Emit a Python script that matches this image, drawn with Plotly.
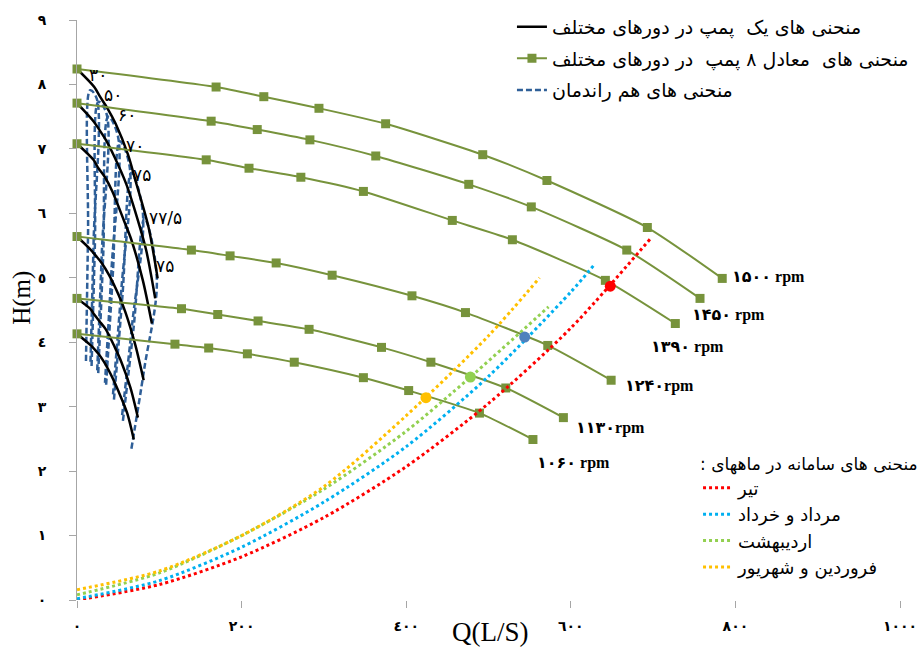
import plotly.graph_objects as go

# ---- Equivalent curves of 8 parallel pumps at different speeds (Q: L/s, H: m)
speeds = [1500, 1450, 1390, 1240, 1130, 1060]
rpm_labels = ["۱۵۰۰ rpm", "۱۴۵۰ rpm", "۱۳۹۰ rpm", "۱۲۴۰rpm", "۱۱۳۰rpm", "۱۰۶۰ rpm"]

q8_1500 = [0, 169, 227, 294, 375, 493, 571, 693, 784]
h_1500 = [8.24, 7.96, 7.81, 7.63, 7.39, 6.91, 6.51, 5.78, 4.99]
q8_1450 = [0, 163, 219, 283, 363, 476, 552, 668, 757]
h_1450 = [7.71, 7.43, 7.30, 7.14, 6.89, 6.45, 6.10, 5.43, 4.68]
q8_1390 = [0, 157, 209, 272, 348, 456, 529, 642, 727]
h_1390 = [7.08, 6.83, 6.70, 6.56, 6.34, 5.89, 5.59, 4.96, 4.29]
q8_1240 = [0, 139, 186, 242, 310, 407, 472, 572, 649]
h_1240 = [5.64, 5.43, 5.34, 5.23, 5.04, 4.72, 4.46, 3.95, 3.41]
q8_1130 = [0, 127, 171, 220, 282, 370, 430, 521, 591]
h_1130 = [4.68, 4.52, 4.43, 4.33, 4.20, 3.92, 3.69, 3.29, 2.83]
q8_1060 = [0, 119, 160, 207, 264, 348, 403, 489, 554]
h_1060 = [4.13, 3.97, 3.91, 3.82, 3.69, 3.45, 3.25, 2.90, 2.49]

# ---- Single pump curves at the same speeds (same heads)
q1_1500 = [0, 21, 28, 37, 47, 62, 71, 87, 98]
q1_1450 = [0, 20, 27, 35, 45, 60, 69, 84, 95]
q1_1390 = [0, 20, 26, 34, 43, 57, 66, 80, 91]
q1_1240 = [0, 17, 23, 30, 39, 51, 59, 71, 81]
q1_1130 = [0, 16, 21, 27, 35, 46, 54, 65, 74]
q1_1060 = [0, 15, 20, 26, 33, 43, 50, 61, 69]

# ---- Iso-efficiency contours of the single pump
eff_q_1 = [10.9, 13.4, 16.0, 24.0, 20.2, 16.3]
eff_h_1 = [3.71, 5.67, 7.91, 7.78, 5.57, 3.65]
eff_q_2 = [17.7, 21.8, 26.0, 36.0, 30.2, 24.5]
eff_h_2 = [3.63, 5.54, 7.73, 7.54, 5.40, 3.54]
eff_q_3 = [25.8, 31.9, 38.0, 50.0, 42.0, 34.0]
eff_h_3 = [3.52, 5.37, 7.50, 7.18, 5.14, 3.37]
eff_q_4 = [35.4, 43.7, 52.0, 64.0, 53.8, 43.5]
eff_h_4 = [3.34, 5.10, 7.12, 6.72, 4.81, 3.15]
eff_q_5 = [44.9, 55.4, 66.0, 80.0, 67.2, 54.4]
eff_h_5 = [3.11, 4.75, 6.63, 6.01, 4.30, 2.82]
eff_q_6 = [55.8, 68.9, 82.0, 97.0, 81.5, 66.0]
eff_h_6 = [2.78, 4.24, 5.92, 4.98, 3.57, 2.34]
eff_labels = ["٣٠", "۵٠", "۶٠", "٧٠", "٧۵", "٧٧/۵", "٧۵"]

# ---- System curves for the months
sys_names = ["تیر", "مرداد و خرداد", "اردیبهشت", "فروردین و شهریور"]
sys_colors = ["#FF0000", "#00B0F0", "#92D050", "#FFC000"]
sys_q_tir = [0, 100, 200, 300, 400, 500, 600, 697]
sys_h_tir = [0.0, 0.24, 0.67, 1.28, 2.07, 3.05, 4.22, 5.61]
sys_q_mordad = [0, 100, 200, 300, 400, 500, 600, 629]
sys_h_mordad = [0.02, 0.30, 0.82, 1.52, 2.38, 3.47, 4.78, 5.21]
sys_q_ordibehesht = [0, 100, 200, 300, 400, 478, 573]
sys_h_ordibehesht = [0.08, 0.42, 1.00, 1.72, 2.62, 3.46, 4.55]
sys_q_farvardin = [0, 100, 200, 300, 400, 500, 562]
sys_h_farvardin = [0.16, 0.45, 1.00, 1.76, 2.86, 4.10, 5.00]

# ---- Operating points (intersection of system and pump curves)
op_q = [648, 544, 478, 424]
op_h = [4.87, 4.08, 3.46, 3.14]
op_colors = ["#FF0000", "#4F81BD", "#92D050", "#FFC000"]

# ---- Axis ticks
x_ticks = [0, 200, 400, 600, 800, 1000]
x_ticktext = ["٠", "٢٠٠", "٤٠٠", "٦٠٠", "٨٠٠", "١٠٠٠"]
y_ticks = [0, 1, 2, 3, 4, 5, 6, 7, 8, 9]
y_ticktext = ["٠", "١", "٢", "٣", "٤", "٥", "٦", "٧", "٨", "٩"]

GREEN = "#77933C"
BLUE_DASH = "#2F5F98"
FA_FONT = "DejaVu Sans"

legend1_names = [
    "منحنی های یک  پمپ در دورهای مختلف",
    "منحنی های  معادل ٨ پمپ  در دورهای مختلف",
    "منحنی های هم راندمان",
]
legend2_title = "منحنی های سامانه در ماههای :\u200f"

fig = go.Figure()

# iso-efficiency contours (dashed)
eff_sets = [(eff_q_1, eff_h_1), (eff_q_2, eff_h_2), (eff_q_3, eff_h_3),
            (eff_q_4, eff_h_4), (eff_q_5, eff_h_5), (eff_q_6, eff_h_6)]
for i, (q, h) in enumerate(eff_sets):
    fig.add_trace(go.Scatter(
        x=q, y=h, mode="lines", line=dict(color=BLUE_DASH, width=2.5, dash="6px,3px", shape="spline", smoothing=1.0),
        name=legend1_names[2], legendgroup="eff", legendrank=3, showlegend=(i == 0),
        legend="legend", hoverinfo="skip"))

# single pump curves (black)
single = [q1_1500, q1_1450, q1_1390, q1_1240, q1_1130, q1_1060]
heads = [h_1500, h_1450, h_1390, h_1240, h_1130, h_1060]
for i, (q, h) in enumerate(zip(single, heads)):
    fig.add_trace(go.Scatter(
        x=q, y=h, mode="lines", line=dict(color="black", width=2.5, shape="spline", smoothing=0.8),
        name=legend1_names[0], legendgroup="single", legendrank=1, showlegend=(i == 0),
        legend="legend", hoverinfo="skip"))

# equivalent 8-pump curves (green with square markers)
equiv = [q8_1500, q8_1450, q8_1390, q8_1240, q8_1130, q8_1060]
for i, (q, h) in enumerate(zip(equiv, heads)):
    fig.add_trace(go.Scatter(
        x=q, y=h, mode="lines+markers", cliponaxis=False,
        line=dict(color=GREEN, width=2, shape="spline", smoothing=0.6),
        marker=dict(symbol="square", size=9, color=GREEN),
        name=legend1_names[1], legendgroup="equiv", legendrank=2, showlegend=(i == 0),
        legend="legend", hoverinfo="skip"))

# system curves (dotted)
sys_sets = [(sys_q_tir, sys_h_tir), (sys_q_mordad, sys_h_mordad),
            (sys_q_ordibehesht, sys_h_ordibehesht), (sys_q_farvardin, sys_h_farvardin)]
for (q, h), name, col in zip(sys_sets, sys_names, sys_colors):
    fig.add_trace(go.Scatter(
        x=q, y=h, mode="lines", line=dict(color=col, width=3, dash="dot", shape="spline", smoothing=0.8),
        name=name, legend="legend2", hoverinfo="skip"))

# operating points
fig.add_trace(go.Scatter(
    x=op_q, y=op_h, mode="markers", marker=dict(size=11, color=op_colors),
    showlegend=False, hoverinfo="skip"))

# rpm labels at curve ends
rpm_pos = [(793, 5.01), (745, 4.42), (695, 3.92), (663, 3.32), (604, 2.67), (556, 2.12)]
for (x, y), txt in zip(rpm_pos, rpm_labels):
    fig.add_annotation(x=x, y=y, text=txt, showarrow=False, xanchor="left", yanchor="middle",
                       font=dict(family="Liberation Serif, DejaVu Sans", size=16, color="black", weight="bold"))

# efficiency labels along the top pump curve
eff_pos = [(25.5, 8.14), (43.7, 7.83), (60.8, 7.52), (70.5, 7.04), (79, 6.59), (107, 5.92), (107, 5.19)]
for (x, y), txt in zip(eff_pos, eff_labels):
    fig.add_annotation(x=x, y=y, text=txt, showarrow=False, xanchor="center", yanchor="middle",
                       font=dict(family=FA_FONT, size=17, color="black"))

# axis titles
fig.add_annotation(xref="paper", yref="paper", x=-0.0668, y=0.521, text="H(m)", showarrow=False,
                   xanchor="center", yanchor="middle",
                   textangle=-90, font=dict(family="Liberation Serif", size=25, color="black"))
fig.add_annotation(xref="paper", yref="paper", x=0.503, y=-0.055, text="Q(L/S)", showarrow=False,
                   xanchor="center", yanchor="middle",
                   font=dict(family="Liberation Serif", size=27, color="black"))

tickfont = dict(family=FA_FONT, size=14, color="black", weight="bold")
fig.update_layout(
    width=924, height=652,
    margin=dict(l=77, r=24, t=20, b=52, autoexpand=False),
    plot_bgcolor="white", paper_bgcolor="white",
    xaxis=dict(range=[0, 1000], tickvals=x_ticks, ticktext=x_ticktext, showgrid=False, zeroline=False,
               showline=False, ticks="outside", ticklen=7, tickcolor="#A6A6A6", tickfont=tickfont,
               ticklabelstandoff=6),
    yaxis=dict(range=[0, 9], tickvals=y_ticks, ticktext=y_ticktext, showgrid=False, zeroline=False,
               showline=True, linecolor="#A6A6A6", linewidth=1, ticks="outside", ticklen=7,
               tickcolor="#A6A6A6", tickfont=tickfont, ticklabelstandoff=20),
    legend=dict(x=0.5285, y=1.021, xanchor="left", yanchor="top", bgcolor="rgba(0,0,0,0)",
                traceorder="grouped", tracegroupgap=4,
                font=dict(family=FA_FONT, size=19, color="black")),
    legend2=dict(x=0.7546, y=0.263, xanchor="left", yanchor="top", bgcolor="rgba(0,0,0,0)",
                 title=dict(text=legend2_title, font=dict(family=FA_FONT, size=17, color="black")),
                 font=dict(family=FA_FONT, size=18, color="black")),
)

fig.write_html("out.html")
